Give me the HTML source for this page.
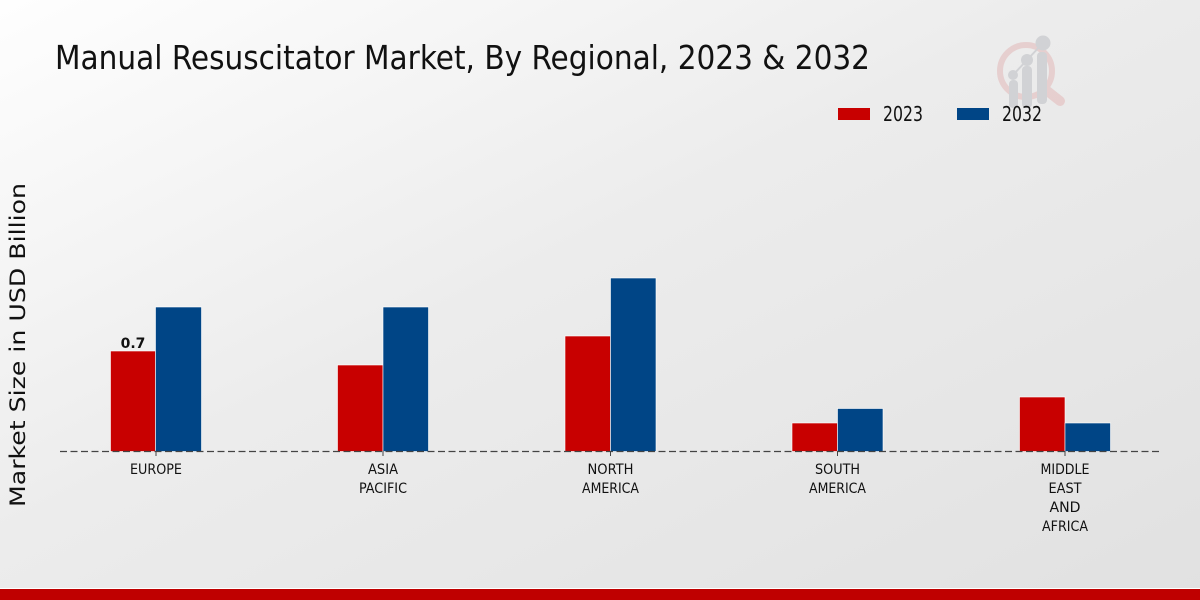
<!DOCTYPE html>
<html>
<head>
<meta charset="utf-8">
<style>
html,body{margin:0;padding:0;width:1200px;height:600px;overflow:hidden;}
svg{display:block;}
</style>
</head>
<body>
<svg width="1200" height="600" viewBox="0 0 1200 600" xmlns="http://www.w3.org/2000/svg">
<defs>
<linearGradient id="bg" x1="0" y1="0" x2="1" y2="1">
<stop offset="0" stop-color="#fefefe"/>
<stop offset="0.45" stop-color="#ececec"/>
<stop offset="1" stop-color="#e1e1e1"/>
</linearGradient>
</defs>
<rect x="0" y="0" width="1200" height="600" fill="url(#bg)"/>

<!-- watermark logo -->
<g opacity="0.9">
<circle cx="1026" cy="71" r="26" fill="none" stroke="#e6cccc" stroke-width="6"/>
<line x1="1046" y1="90" x2="1060" y2="101" stroke="#e6cccc" stroke-width="10" stroke-linecap="round"/>
<g fill="#cfd0d3">
<rect x="1009" y="80" width="9" height="28" rx="4"/>
<rect x="1022" y="66" width="10" height="42" rx="4"/>
<rect x="1037" y="52" width="10" height="52" rx="4"/>
<circle cx="1013" cy="75" r="5"/>
<circle cx="1027" cy="60" r="6"/>
<circle cx="1043" cy="43" r="7.5"/>
</g>
<polyline points="1013,75 1027,60 1043,43" fill="none" stroke="#cfd0d3" stroke-width="2"/>
</g>

<!-- title -->
<text x="55" y="69" font-family="DejaVu Sans Condensed, DejaVu Sans, Liberation Sans, sans-serif" font-size="33" fill="#111" textLength="815" lengthAdjust="spacingAndGlyphs">Manual Resuscitator Market, By Regional, 2023 &amp; 2032</text>

<!-- legend -->
<rect x="838" y="108" width="32" height="12" fill="#c80000"/>
<text x="883" y="121" font-family="DejaVu Sans Condensed, DejaVu Sans, Liberation Sans, sans-serif" font-size="20" fill="#111" textLength="40" lengthAdjust="spacingAndGlyphs">2023</text>
<rect x="957" y="108" width="32" height="12" fill="#004586"/>
<text x="1002" y="121" font-family="DejaVu Sans Condensed, DejaVu Sans, Liberation Sans, sans-serif" font-size="20" fill="#111" textLength="40" lengthAdjust="spacingAndGlyphs">2032</text>

<!-- y axis label -->
<text transform="translate(25,345) rotate(-90)" text-anchor="middle" font-family="DejaVu Sans, Liberation Sans, sans-serif" font-size="21" fill="#111" textLength="324" lengthAdjust="spacingAndGlyphs">Market Size in USD Billion</text>

<!-- bars -->
<g stroke="#ffffff" stroke-width="0.6">
<rect x="110.5" y="351" width="45" height="100.5" fill="#c80000"/>
<rect x="155.5" y="307" width="46" height="144.5" fill="#004586"/>
<rect x="337.5" y="365" width="45.5" height="86.5" fill="#c80000"/>
<rect x="383" y="307" width="45.5" height="144.5" fill="#004586"/>
<rect x="565" y="336" width="45.5" height="115.5" fill="#c80000"/>
<rect x="610.5" y="278" width="45.5" height="173.5" fill="#004586"/>
<rect x="792" y="423" width="45.5" height="28.5" fill="#c80000"/>
<rect x="837.5" y="408.5" width="45.5" height="43" fill="#004586"/>
<rect x="1019.5" y="397" width="45.5" height="54.5" fill="#c80000"/>
<rect x="1065" y="423" width="45.5" height="28.5" fill="#004586"/>
</g>

<!-- baseline dashed -->
<line x1="60" y1="451.5" x2="1160" y2="451.5" stroke="#444" stroke-width="1.2" stroke-dasharray="7,3.5"/>
<g stroke="#444" stroke-width="1">
<line x1="156" y1="451" x2="156" y2="456"/>
<line x1="383" y1="451" x2="383" y2="456"/>
<line x1="610.5" y1="451" x2="610.5" y2="456"/>
<line x1="837.5" y1="451" x2="837.5" y2="456"/>
<line x1="1065" y1="451" x2="1065" y2="456"/>
</g>

<!-- value label -->
<text x="133" y="348" text-anchor="middle" font-family="DejaVu Sans, Liberation Sans, sans-serif" font-size="14" font-weight="bold" fill="#111">0.7</text>

<!-- x labels -->
<g font-family="DejaVu Sans Condensed, DejaVu Sans, Liberation Sans, sans-serif" font-size="14" fill="#111" text-anchor="middle">
<text x="156" y="474" textLength="52" lengthAdjust="spacingAndGlyphs">EUROPE</text>
<text x="383" y="474" textLength="30" lengthAdjust="spacingAndGlyphs">ASIA</text>
<text x="383" y="493" textLength="48" lengthAdjust="spacingAndGlyphs">PACIFIC</text>
<text x="610.5" y="474" textLength="46" lengthAdjust="spacingAndGlyphs">NORTH</text>
<text x="610.5" y="493" textLength="57" lengthAdjust="spacingAndGlyphs">AMERICA</text>
<text x="837.5" y="474" textLength="45" lengthAdjust="spacingAndGlyphs">SOUTH</text>
<text x="837.5" y="493" textLength="57" lengthAdjust="spacingAndGlyphs">AMERICA</text>
<text x="1065" y="474" textLength="49" lengthAdjust="spacingAndGlyphs">MIDDLE</text>
<text x="1065" y="493" textLength="33" lengthAdjust="spacingAndGlyphs">EAST</text>
<text x="1065" y="512" textLength="31" lengthAdjust="spacingAndGlyphs">AND</text>
<text x="1065" y="531" textLength="46" lengthAdjust="spacingAndGlyphs">AFRICA</text>
</g>

<!-- bottom bar -->
<rect x="0" y="588" width="1200" height="1" fill="#ffffff"/>
<rect x="0" y="589" width="1200" height="11" fill="#bf0000"/>
</svg>
</body>
</html>
